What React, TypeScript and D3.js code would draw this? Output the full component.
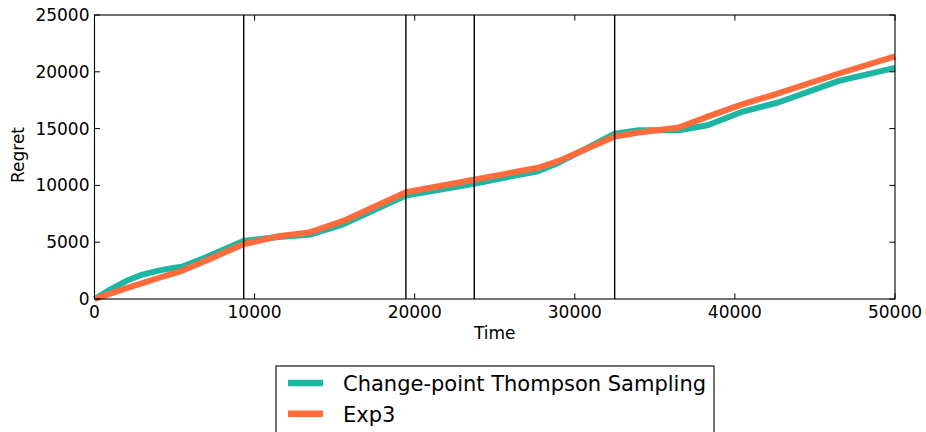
import React from "react";
import * as d3 from "d3";

const times = [0, 1000, 2000, 3000, 4000, 5000, 5500, 7000, 9300, 11500, 13400, 15500, 19450, 23700, 27700, 29000, 32500, 34000, 36500, 38300, 40500, 42700, 46500, 50000];
const cptsRegret = [0, 850, 1600, 2150, 2500, 2750, 2850, 3700, 5100, 5450, 5650, 6550, 9100, 10150, 11250, 12000, 14550, 14850, 14850, 15300, 16500, 17300, 19200, 20350];
const exp3Regret = [0, 480, 950, 1400, 1850, 2280, 2500, 3400, 4820, 5520, 5850, 6850, 9400, 10500, 11550, 12150, 14300, 14650, 15100, 16050, 17150, 18100, 19850, 21350];
const changePoints = [9320, 19450, 23720, 32490];
const xTicks = [0, 10000, 20000, 30000, 40000, 50000];
const yTicks = [0, 5000, 10000, 15000, 20000, 25000];
const seriesNames = ["Change-point Thompson Sampling", "Exp3"];
const seriesColors = ["#1db6a2", "#ff6b3b"];

const W = 926, H = 432;
const L = 94.5, R = 895, T = 15, B = 299;
const FONT = "DejaVu Sans";

export default function App() {
  const x = d3.scaleLinear().domain([0, 50000]).range([L, R]);
  const y = d3.scaleLinear().domain([0, 25000]).range([B, T]);
  const line = d3.line<[number, number]>().x(d => x(d[0])).y(d => y(d[1]));
  const series = [cptsRegret, exp3Regret];
  const tl = 5.6;
  return (
    <svg width={W} height={H} style={{ position: "absolute", left: 0, top: 0 }} fontFamily={FONT}>
      <rect x={0} y={0} width={W} height={H} fill="#fff" />
      {series.map((s, i) => (
        <path key={i} d={line(times.map((t, j) => [t, s[j]] as [number, number])) || ""} fill="none"
          stroke={seriesColors[i]} strokeWidth={6} strokeLinejoin="round" strokeLinecap="butt" />
      ))}
      {changePoints.map((c, i) => (
        <line key={i} x1={x(c)} x2={x(c)} y1={T} y2={B} stroke="#000" strokeWidth={1.4} />
      ))}
      <rect x={L} y={T} width={R - L} height={B - T} fill="none" stroke="#000" strokeWidth={1.1} />
      {xTicks.map(t => (
        <g key={t}>
          <line x1={x(t)} x2={x(t)} y1={B} y2={B - tl} stroke="#000" strokeWidth={1} />
          <line x1={x(t)} x2={x(t)} y1={T} y2={T + tl} stroke="#000" strokeWidth={1} />
          <text x={x(t)} y={318} fontSize={17} textAnchor="middle">{t}</text>
        </g>
      ))}
      {yTicks.map(t => (
        <g key={t}>
          <line x1={L} x2={L + tl} y1={y(t)} y2={y(t)} stroke="#000" strokeWidth={1} />
          <line x1={R} x2={R - tl} y1={y(t)} y2={y(t)} stroke="#000" strokeWidth={1} />
          <text x={89.5} y={y(t) + 6} fontSize={17} textAnchor="end">{t}</text>
        </g>
      ))}
      <text x={(L + R) / 2} y={339} fontSize={17} textAnchor="middle">Time</text>
      <text transform={`translate(24,155) rotate(-90)`} fontSize={17} textAnchor="middle">Regret</text>
      <rect x={276} y={366} width={438} height={80} fill="#fff" stroke="#000" strokeWidth={1.1} />
      {seriesNames.map((n, i) => (
        <g key={n}>
          <line x1={288} x2={323} y1={383 + i * 30.7} y2={383 + i * 30.7} stroke={seriesColors[i]} strokeWidth={6.5} />
          <text x={343} y={391 + i * 30.7} fontSize={21}>{n}</text>
        </g>
      ))}
    </svg>
  );
}
